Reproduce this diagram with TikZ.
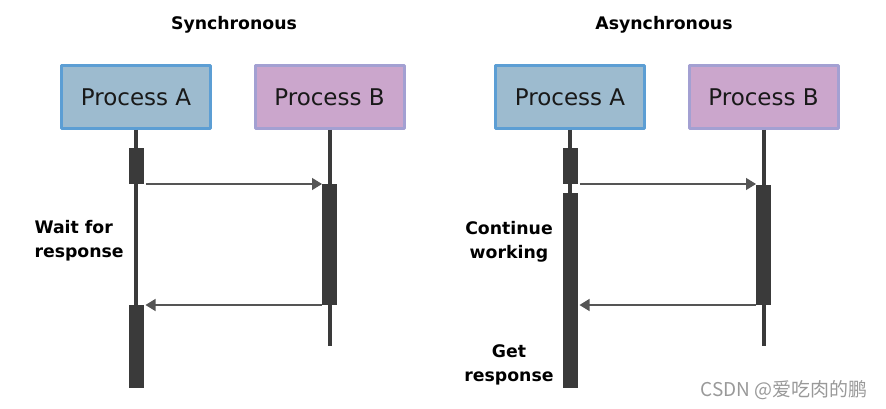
\documentclass[tikz,border=0pt]{standalone}
\usepackage{fontspec}
\setmainfont{DejaVu Sans}
\newfontfamily\cjk{Noto Sans CJK SC}
\usetikzlibrary{arrows.meta,positioning}
\definecolor{boxAfill}{RGB}{157,187,207}
\definecolor{boxAline}{RGB}{92,158,212}
\definecolor{boxBfill}{RGB}{203,166,204}
\definecolor{boxBline}{RGB}{163,160,210}
\definecolor{actgray}{RGB}{58,58,58}
\definecolor{msggray}{RGB}{85,85,85}
\begin{document}
\begin{tikzpicture}[x=1pt, y=-1pt, line join=round,
	proc/.style={draw=box#1line, fill=box#1fill, line width=3pt, minimum width=149pt,
		minimum height=63pt, inner sep=0pt, text=black!90,
		font=\fontsize{23}{26}\selectfont},
	life/.style={draw=actgray, line width=4pt},
	act/.style={fill=actgray, minimum width=15pt, inner sep=0pt, outer sep=0pt},
	msg/.style={draw=msggray, line width=1.3pt, -{Triangle[length=10pt,width=12pt]}},
	title/.style={font=\bfseries\fontsize{17.3}{20}\selectfont},
	note/.style={font=\bfseries\fontsize{17.3}{24}\selectfont}]
	\useasboundingbox (0,0) rectangle (886,409);
	% titles
	\node[title] (tsync) at (234,25) {Synchronous};
	\node[title] (tasync) at (664,25) {Asynchronous};
	% process boxes
	\foreach \n/\x/\c in {sa/136/A,sb/329.5/B,aa/570/A,ab/763.5/B}
	\node[proc=\c] (\n) at (\x,97) {Process \c};
	% lifelines
	\foreach \n/\l in {sa/258,sb/216,aa/258,ab/216}
	\draw[life] (\n.south) -- ++(0,\l);
	% activations
	\node[act, minimum height=36pt] (sa1) at (136,166) {};
	\node[act, minimum height=83pt] (sa2) at (136,346.5) {};
	\node[act, minimum height=121pt] (sb1) at (329.5,244.5) {};
	\node[act, minimum height=36pt] (aa1) at (570,166) {};
	\node[act, minimum height=195pt] (aa2) at (570,290.5) {};
	\node[act, minimum height=120pt] (ab1) at (763.5,245) {};
	% messages
	\draw[msg] ([xshift=2pt]sa1.south east) -- (sb1.north west);
	\draw[msg] (sb1.south west) -- ([xshift=2pt]sa2.north east);
	\draw[msg] ([xshift=2pt]aa1.south east) -- (aa1.south east -| ab1.west);
	\draw[msg] (ab1.south west) -- ([xshift=2pt]ab1.south west -| aa2.east);
	% notes
	\node[note, align=left, anchor=west] (wait) at (31,241) {Wait for\\response};
	\node[note, align=center] (cont) at (509,242) {Continue\\working};
	\node[note, align=center] (get) at (509,365) {Get\\response};
	\node[text=black!40, font=\cjk\fontsize{19}{21}\selectfont, anchor=east] (mark) at (871,390) {CSDN @爱吃肉的鹏};
\end{tikzpicture}
\end{document}
